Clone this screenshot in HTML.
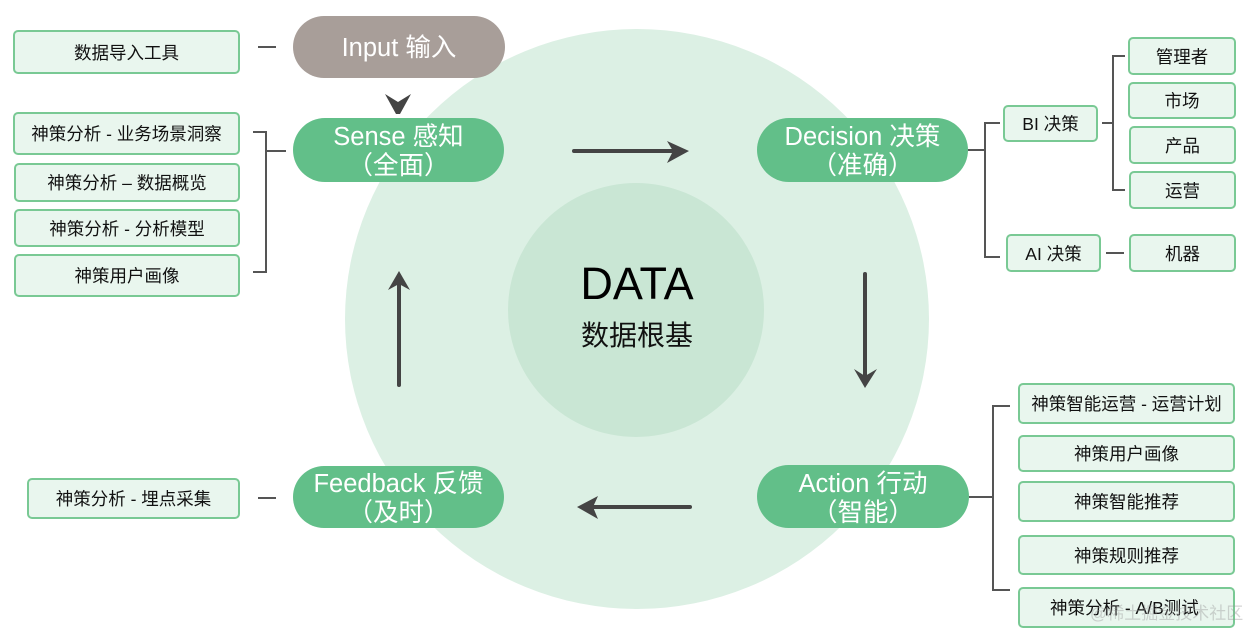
<!DOCTYPE html>
<html><head><meta charset="utf-8"><style>
*{margin:0;padding:0;box-sizing:border-box}
body{width:1252px;height:640px;background:#fff;position:relative;overflow:hidden;font-family:"Liberation Sans","Noto Sans CJK SC",sans-serif}
.c{position:absolute;border-radius:50%}
.pill{position:absolute;border-radius:32px;background:#62bf89;color:#fff;font-size:25.5px;line-height:29px;text-align:center;display:flex;flex-direction:column;justify-content:center;align-items:center;white-space:nowrap;padding-top:4px}
.box{position:absolute;background:#e9f6ee;border:2px solid #79c994;border-radius:5px;color:#111;font-size:17.5px;display:flex;align-items:center;justify-content:center;white-space:nowrap}
svg{position:absolute;left:0;top:0}
</style></head><body>
<div class="c" style="left:345px;top:29px;width:584px;height:580px;background:#dcf0e4"></div>
<div class="c" style="left:508px;top:183px;width:256px;height:254px;background:#c9e6d4"></div>
<div style="position:absolute;left:537px;top:254px;width:200px;text-align:center;font-size:45px;color:#000;line-height:60px">DATA</div>
<div style="position:absolute;left:537px;top:318px;width:200px;text-align:center;font-size:28px;color:#111;line-height:36px">数据根基</div>

<div class="pill" style="left:293px;top:16px;width:212px;height:62px;background:#a89e99;padding-top:2px"><span>Input 输入</span></div>
<div class="pill" style="left:293px;top:118px;width:211px;height:64px"><span>Sense 感知</span><span>（全面）</span></div>
<div class="pill" style="left:757px;top:118px;width:211px;height:64px"><span>Decision 决策</span><span>（准确）</span></div>
<div class="pill" style="left:757px;top:465px;width:212px;height:63px"><span>Action 行动</span><span>（智能）</span></div>
<div class="pill" style="left:293px;top:466px;width:211px;height:62px"><span>Feedback 反馈</span><span>（及时）</span></div>

<div class="box" style="left:13px;top:30px;width:227px;height:44px">数据导入工具</div>
<div class="box" style="left:13px;top:112px;width:227px;height:43px">神策分析 - 业务场景洞察</div>
<div class="box" style="left:14px;top:163px;width:226px;height:39px">神策分析 – 数据概览</div>
<div class="box" style="left:14px;top:209px;width:226px;height:38px">神策分析 - 分析模型</div>
<div class="box" style="left:14px;top:254px;width:226px;height:43px">神策用户画像</div>
<div class="box" style="left:27px;top:478px;width:213px;height:41px">神策分析 - 埋点采集</div>

<div class="box" style="left:1003px;top:105px;width:95px;height:37px">BI 决策</div>
<div class="box" style="left:1006px;top:234px;width:95px;height:38px">AI 决策</div>
<div class="box" style="left:1128px;top:37px;width:108px;height:38px">管理者</div>
<div class="box" style="left:1128px;top:82px;width:108px;height:37px">市场</div>
<div class="box" style="left:1129px;top:126px;width:107px;height:38px">产品</div>
<div class="box" style="left:1129px;top:171px;width:107px;height:38px">运营</div>
<div class="box" style="left:1129px;top:234px;width:107px;height:38px">机器</div>

<div class="box" style="left:1018px;top:383px;width:217px;height:41px">神策智能运营 - 运营计划</div>
<div class="box" style="left:1018px;top:435px;width:217px;height:37px">神策用户画像</div>
<div class="box" style="left:1018px;top:481px;width:217px;height:41px">神策智能推荐</div>
<div class="box" style="left:1018px;top:535px;width:217px;height:40px">神策规则推荐</div>
<div class="box" style="left:1018px;top:587px;width:217px;height:41px;justify-content:flex-start;padding-left:30px">神策分析 - A/B测试</div>
<div style="position:absolute;left:1090px;top:599px;font-size:17px;color:rgba(150,150,150,0.4)">@稀土掘金技术社区</div>

<svg width="1252" height="640" viewBox="0 0 1252 640">
<g stroke="#555" stroke-width="2" fill="none">
<path d="M258 47H276"/>
<path d="M253 132H266V272H253"/>
<path d="M266 151H286"/>
<path d="M258 498H276"/>
<path d="M968 150H985"/>
<path d="M1000 123H985V257H1000"/>
<path d="M1102 123H1113"/>
<path d="M1125 56H1113V190H1125"/>
<path d="M1106 253H1124"/>
<path d="M969 497H993"/>
<path d="M1010 406H993V590H1010"/>
</g>
<g stroke="#444" stroke-width="4" fill="none" stroke-linecap="round">
<path d="M574 151H672"/>
<path d="M865 274V375"/>
<path d="M690 507H592"/>
<path d="M399 385V284"/>
</g>
<g fill="#444">
<polygon points="667,141 689,151 667,163 673,151"/>
<polygon points="854,369 865,388 877,369 865,376"/>
<polygon points="598,496 577,507 598,519 593,507"/>
<polygon points="388,290 399,271 410,290 399,284"/>
<polygon points="385,94 398,102 411,94 400,114 396,114"/>
</g>
</svg>
</body></html>
